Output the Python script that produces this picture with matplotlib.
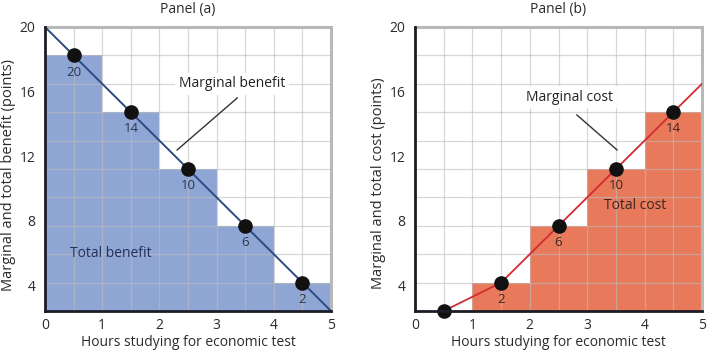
import matplotlib
matplotlib.use("Agg")
import matplotlib.pyplot as plt
import numpy as np

plt.rcParams['font.family'] = ['Open Sans', 'DejaVu Sans']

# ---- data ----
hours_mid = [0.5, 1.5, 2.5, 3.5, 4.5]
x_ticks = [0, 1, 2, 3, 4, 5]
y_ticks = [4, 8, 12, 16, 20]
y_min, y_max = 2.4, 20.0

# Panel (a): marginal benefit
mb_labels = ["20", "14", "10", "6", "2"]
mb_heights = [18.24, 14.72, 11.2, 7.68, 4.16]
mb_line_x = [0, 5]
mb_line_y = [20.0, 2.4]

# Panel (b): marginal cost
mc_labels = ["", "2", "6", "10", "14"]
mc_heights = [2.4, 4.16, 7.68, 11.2, 14.72]
mc_line_x = [0.5, 1.5, 2.5, 3.5, 4.5, 5.0]
mc_line_y = [2.4, 4.16, 7.68, 11.2, 14.72, 16.48]

W, H = 720, 352
fig = plt.figure(figsize=(7.2, 3.52), dpi=100)

def px_axes(l, t, r, b):
    return [l / W, 1 - b / H, (r - l) / W, (b - t) / H]

ax_a = fig.add_axes(px_axes(45, 27, 331, 311))
ax_b = fig.add_axes(px_axes(415, 27, 702, 311))

TXT = '#2b2b2b'

def style(ax):
    ax.set_xlim(0, 5)
    ax.set_ylim(y_min, y_max)
    ax.set_xticks(x_ticks)
    ax.set_yticks(y_ticks)
    ax.tick_params(length=0, labelsize=10, colors=TXT)
    ax.tick_params(axis='y', pad=7)
    ax.tick_params(axis='x', pad=5)
    # grid 10 x 10
    for gx in np.linspace(0, 5, 11)[1:-1]:
        ax.axvline(gx, color='#bdbdbd', lw=0.9, zorder=2, alpha=0.6)
    for gy in np.linspace(y_min, y_max, 11)[1:-1]:
        ax.axhline(gy, color='#bdbdbd', lw=0.9, zorder=2, alpha=0.6)
    for s in ['left', 'bottom']:
        ax.spines[s].set_color('#1c1c28')
        ax.spines[s].set_linewidth(2.0)
        ax.spines[s].set_zorder(6)
    for s in ['top', 'right']:
        ax.spines[s].set_color('#b8b8b8')
        ax.spines[s].set_linewidth(2.2)

style(ax_a)
style(ax_b)

# Panel (a)
ax_a.bar(hours_mid, mb_heights, width=1.0, color='#8fa6d4', zorder=1)
ax_a.plot(mb_line_x, mb_line_y, color='#2e4a86', lw=1.4, zorder=3)
ax_a.plot(hours_mid, mb_heights, 'o', color='#111111', ms=9.5, zorder=5, clip_on=False)
for x, y, lab in zip(hours_mid, mb_heights, mb_labels):
    ax_a.annotate(lab, (x, y), xytext=(0, -12), textcoords='offset points',
                  ha='center', va='center', fontsize=9.5, color='#2a3550', zorder=6)
ax_a.text(3.27, 16.48, "Marginal benefit", ha='center', va='center', fontsize=10,
          color='#222222', zorder=6,
          bbox=dict(boxstyle='square,pad=0.25', fc='white', ec='none'))
ax_a.plot([3.36, 2.31], [15.6, 12.38], color='#333333', lw=1.0, zorder=4)
ax_a.text(1.15, 5.94, "Total benefit", ha='center', va='center', fontsize=10,
          color='#22305a', zorder=6)

# Panel (b)
ax_b.bar(hours_mid, mc_heights, width=1.0, color='#e8795b', zorder=1)
ax_b.plot(mc_line_x, mc_line_y, color='#d42a30', lw=1.3, zorder=3)
ax_b.plot(hours_mid, mc_heights, 'o', color='#111111', ms=9.5, zorder=5, clip_on=False)
for x, y, lab in zip(hours_mid, mc_heights, mc_labels):
    if lab:
        ax_b.annotate(lab, (x, y), xytext=(0, -12), textcoords='offset points',
                      ha='center', va='center', fontsize=9.5, color='#3a2622', zorder=6)
ax_b.text(2.70, 15.66, "Marginal cost", ha='center', va='center', fontsize=10,
          color='#222222', zorder=6,
          bbox=dict(boxstyle='square,pad=0.25', fc='white', ec='none'))
ax_b.plot([2.82, 3.52], [14.55, 12.38], color='#333333', lw=1.0, zorder=4)
ax_b.text(3.83, 8.91, "Total cost", ha='center', va='center', fontsize=10,
          color='#3a2622', zorder=6)

# titles, axis labels
fig.text(188 / W, 1 - 9 / H, "Panel (a)", ha='center', va='center', fontsize=10, color=TXT)
fig.text(558 / W, 1 - 9 / H, "Panel (b)", ha='center', va='center', fontsize=10, color=TXT)
fig.text(188 / W, 1 - 342 / H, "Hours studying for economic test", ha='center', va='center',
         fontsize=10, color=TXT)
fig.text(558 / W, 1 - 342 / H, "Hours studying for economic test", ha='center', va='center',
         fontsize=10, color=TXT)
fig.text(9 / W, 1 - 175 / H, "Marginal and total benefit (points)", rotation=90,
         ha='center', va='center', fontsize=10.5, color=TXT)
fig.text(378 / W, 1 - 183 / H, "Marginal and total cost (points)", rotation=90,
         ha='center', va='center', fontsize=10.5, color=TXT)

fig.savefig("out.png", dpi=100)
